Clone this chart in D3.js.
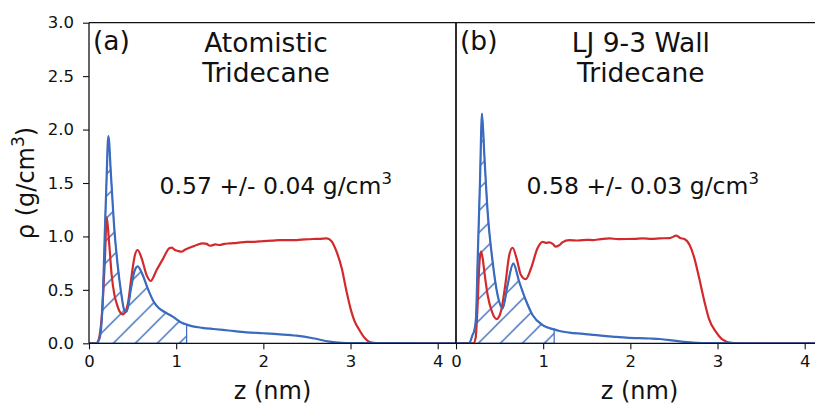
<!DOCTYPE html>
<html>
<head>
<meta charset="utf-8">
<script src="https://cdn.jsdelivr.net/npm/d3@7"></script>
<style>
  html, body { margin: 0; padding: 0; background: #fff; }
  svg { display: block; font-family: "DejaVu Sans", sans-serif; }
</style>
</head>
<body>
<svg id="chart" width="815" height="406"></svg>
<script>
// Density profiles rho(z) for tridecane near the wall, in g/cm^3 against z in nm.
// Panel (a): atomistic wall. Panel (b): LJ 9-3 wall.
const panelTags = ["(a)", "(b)"];
const panelTitles = [["Atomistic", "Tridecane"], ["LJ 9-3 Wall", "Tridecane"]];
const densityNotes = ["0.57 +/- 0.04 g/cm", "0.58 +/- 0.03 g/cm"];
const xTicks = [0, 1, 2, 3, 4];
const yTicks = [0, 0.5, 1.0, 1.5, 2.0, 2.5, 3.0];
const zMax = 4.21;
const rhoMax = 3.0;

// z positions where the hatched (adsorbed) region ends
const hatchEnd = [1.12, 1.126];

// blue: first-layer density; red: total density
const blueA = [[0,0],[0.08,0],[0.118,0.04],[0.14,0.15],[0.16,0.45],[0.18,1.0],[0.2,1.5],[0.222,1.94],
  [0.252,1.574],[0.29,1.076],[0.329,0.732],[0.367,0.483],[0.405,0.31],[0.432,0.296],[0.482,0.514],
  [0.52,0.67],[0.558,0.72],[0.616,0.639],[0.673,0.514],[0.749,0.38],[0.80,0.33],[0.852,0.30],
  [0.96,0.25],[1.07,0.19],[1.12,0.175],[1.19,0.158],[1.30,0.145],[1.426,0.134],[1.6,0.12],
  [1.808,0.103],[2.0,0.094],[2.19,0.084],[2.38,0.071],[2.57,0.047],[2.76,0.015],[2.9,0.004],
  [3.0,0.001],[4.21,0]];

const redA = [[0,0],[0.085,0],[0.11,0.03],[0.13,0.12],[0.145,0.234],[0.165,0.5],[0.183,0.795],
  [0.203,1.18],[0.23,0.95],[0.26,0.639],[0.29,0.46],[0.317,0.374],[0.35,0.3],[0.386,0.271],
  [0.42,0.3],[0.45,0.39],[0.49,0.64],[0.527,0.826],[0.558,0.873],[0.604,0.795],[0.66,0.64],
  [0.707,0.583],[0.776,0.686],[0.852,0.795],[0.921,0.889],[0.95,0.895],[0.986,0.873],[1.03,0.862],
  [1.063,0.857],[1.1,0.875],[1.139,0.889],[1.19,0.905],[1.235,0.92],[1.31,0.935],[1.35,0.93],
  [1.388,0.913],[1.45,0.925],[1.5,0.92],[1.55,0.93],[1.617,0.935],[1.7,0.94],[1.808,0.95],
  [1.9,0.95],[2.0,0.957],[2.1,0.96],[2.19,0.966],[2.3,0.965],[2.38,0.966],[2.48,0.972],
  [2.57,0.976],[2.65,0.978],[2.726,0.982],[2.78,0.957],[2.84,0.857],[2.90,0.70],[2.955,0.483],
  [3.01,0.296],[3.05,0.2],[3.09,0.14],[3.165,0.047],[3.22,0.012],[3.3,0.002],[4.21,0]];

const blueB = [[0,0],[0.15,0],[0.19,0.078],[0.21,0.12],[0.229,0.234],[0.25,0.82],[0.275,1.51],
  [0.298,2.15],[0.325,1.76],[0.363,1.23],[0.42,0.764],[0.477,0.452],[0.535,0.327],[0.592,0.545],
  [0.657,0.748],[0.725,0.576],[0.80,0.405],[0.878,0.265],[0.993,0.171],[1.126,0.13],[1.19,0.115],
  [1.3,0.1],[1.46,0.088],[1.573,0.078],[1.84,0.06],[1.955,0.053],[2.22,0.045],[2.337,0.04],
  [2.53,0.022],[2.72,0.007],[2.9,0.001],[4.21,0]];

const redB = [[0,0],[0.2,0],[0.225,0.05],[0.248,0.358],[0.267,0.732],[0.286,0.857],[0.305,0.8],
  [0.325,0.67],[0.363,0.452],[0.412,0.296],[0.466,0.227],[0.515,0.296],[0.565,0.545],[0.611,0.826],
  [0.649,0.894],[0.695,0.795],[0.745,0.639],[0.80,0.60],[0.86,0.70],[0.935,0.889],[0.993,0.95],
  [1.03,0.94],[1.07,0.945],[1.11,0.93],[1.145,0.904],[1.19,0.92],[1.22,0.945],[1.30,0.966],
  [1.4,0.962],[1.5,0.968],[1.57,0.966],[1.66,0.975],[1.76,0.982],[1.86,0.975],[1.955,0.976],
  [2.05,0.978],[2.146,0.982],[2.24,0.978],[2.337,0.982],[2.45,0.985],[2.53,1.007],[2.57,0.985],
  [2.62,0.976],[2.68,0.92],[2.735,0.795],[2.79,0.608],[2.85,0.39],[2.90,0.234],[2.98,0.109],
  [3.05,0.04],[3.16,0.005],[3.3,0],[4.21,0]];

const blueSeries = [blueA, blueB];
const redSeries = [redA, redB];

// ---- layout ----
const BLUE = "#3a6bbf", RED = "#d22a2c", INK = "#111";
const plotTop = 22.7, plotBottom = 343.3;
const panelLeft = [89, 456], panelWidth = 367;
const titleCenter = [2.03, 2.12];
const hatchPhase = [16.6, 7.6], hatchStep = 22;

const svg = d3.select("#chart");
svg.append("rect").attr("width", 815).attr("height", 406).attr("fill", "#fff");
const defs = svg.append("defs");

const y = d3.scaleLinear().domain([0, rhoMax]).range([plotBottom, plotTop]);

[0, 1].forEach(i => {
  const x0 = panelLeft[i];
  const x = d3.scaleLinear().domain([0, zMax]).range([x0, x0 + panelWidth]);
  const g = svg.append("g");

  // clip to the axes box
  defs.append("clipPath").attr("id", "clip" + i)
    .append("rect").attr("x", x0).attr("y", plotTop)
    .attr("width", panelWidth).attr("height", plotBottom - plotTop);

  // diagonal hatch pattern
  const s = hatchStep;
  const pat = defs.append("pattern").attr("id", "hatch" + i)
    .attr("patternUnits", "userSpaceOnUse")
    .attr("x", hatchPhase[i]).attr("y", 0)
    .attr("width", s).attr("height", s);
  pat.append("path")
    .attr("d", `M0,${s} L${s},0 M${-s/4},${s/4} L${s/4},${-s/4} M${3*s/4},${5*s/4} L${5*s/4},${3*s/4}`)
    .attr("stroke", BLUE).attr("stroke-width", 1.4).attr("fill", "none");

  const plot = g.append("g").attr("clip-path", `url(#clip${i})`);

  const curve = d3.curveMonotoneX;
  const blue = blueSeries[i];
  const adsorbed = blue.filter(d => d[0] <= hatchEnd[i]);

  const area = d3.area().x(d => x(d[0])).y0(y(0)).y1(d => y(d[1])).curve(curve);
  plot.append("path").datum(adsorbed)
    .attr("d", area)
    .attr("fill", `url(#hatch${i})`)
    .attr("stroke", BLUE).attr("stroke-width", 1.2);

  const line = d3.line().x(d => x(d[0])).y(d => y(d[1])).curve(curve);
  plot.append("path").datum(redSeries[i])
    .attr("d", line).attr("fill", "none")
    .attr("stroke", RED).attr("stroke-width", 2.2).attr("stroke-linejoin", "round");
  plot.append("path").datum(blue)
    .attr("d", line).attr("fill", "none")
    .attr("stroke", BLUE).attr("stroke-width", 2.2).attr("stroke-linejoin", "round");

  // x axis
  const xa = g.append("g").attr("transform", `translate(0,${plotBottom})`)
    .call(d3.axisBottom(x).tickValues(xTicks).tickFormat(d3.format("d")).tickSize(6).tickPadding(6));
  xa.select(".domain").remove();
  xa.selectAll(".tick line").attr("stroke", INK).attr("stroke-width", 1.1);
  xa.selectAll(".tick text").attr("fill", INK).attr("font-size", 16.5)
    .attr("font-family", "DejaVu Sans");

  // y axis on the first panel only
  if (i === 0) {
    const ya = g.append("g").attr("transform", `translate(${x0},0)`)
      .call(d3.axisLeft(y).tickValues(yTicks).tickFormat(d3.format(".1f")).tickSize(6).tickPadding(9));
    ya.select(".domain").remove();
    ya.selectAll(".tick line").attr("stroke", INK).attr("stroke-width", 1.1);
    ya.selectAll(".tick text").attr("fill", INK).attr("font-size", 16.5)
      .attr("font-family", "DejaVu Sans");
  }

  // spines
  const sp = g.append("g").attr("stroke", INK).attr("stroke-width", 1.3).attr("fill", "none");
  sp.append("line").attr("x1", x0).attr("x2", x0).attr("y1", plotTop).attr("y2", plotBottom);
  sp.append("line").attr("x1", x0 + panelWidth).attr("x2", x0 + panelWidth).attr("y1", plotTop).attr("y2", plotBottom);
  sp.append("line").attr("x1", x0).attr("x2", x0 + panelWidth).attr("y1", plotTop).attr("y2", plotTop);
  sp.append("line").attr("x1", x0).attr("x2", x0 + panelWidth).attr("y1", plotBottom).attr("y2", plotBottom);

  // panel tag and title
  g.append("text").attr("x", x0 + 4).attr("y", 50).attr("font-size", 26.5).attr("fill", INK)
    .text(panelTags[i]);
  const cx = x(titleCenter[i]);
  panelTitles[i].forEach((t, k) => {
    g.append("text").attr("x", cx).attr("y", 51.5 + k * 30).attr("text-anchor", "middle")
      .attr("font-size", 26.5).attr("fill", INK).text(t);
  });

  // average density note
  const note = g.append("text").attr("x", x(0.81)).attr("y", 193.5)
    .attr("font-size", 23.5).attr("fill", INK);
  note.append("tspan").text(densityNotes[i]);
  note.append("tspan").attr("font-size", 16.5).attr("dy", -10).text("3");

  // x label
  g.append("text").attr("x", x0 + panelWidth / 2).attr("y", 399)
    .attr("text-anchor", "middle").attr("font-size", 24).attr("fill", INK).text("z (nm)");
});

// y label
const yl = svg.append("text")
  .attr("transform", `translate(34,${(plotTop + plotBottom) / 2}) rotate(-90)`)
  .attr("text-anchor", "middle").attr("font-size", 24).attr("fill", INK);
yl.append("tspan").text("ρ (g/cm");
yl.append("tspan").attr("font-size", 17).attr("dy", -10).text("3");
yl.append("tspan").attr("dy", 10).text(")");
</script>
</body>
</html>
